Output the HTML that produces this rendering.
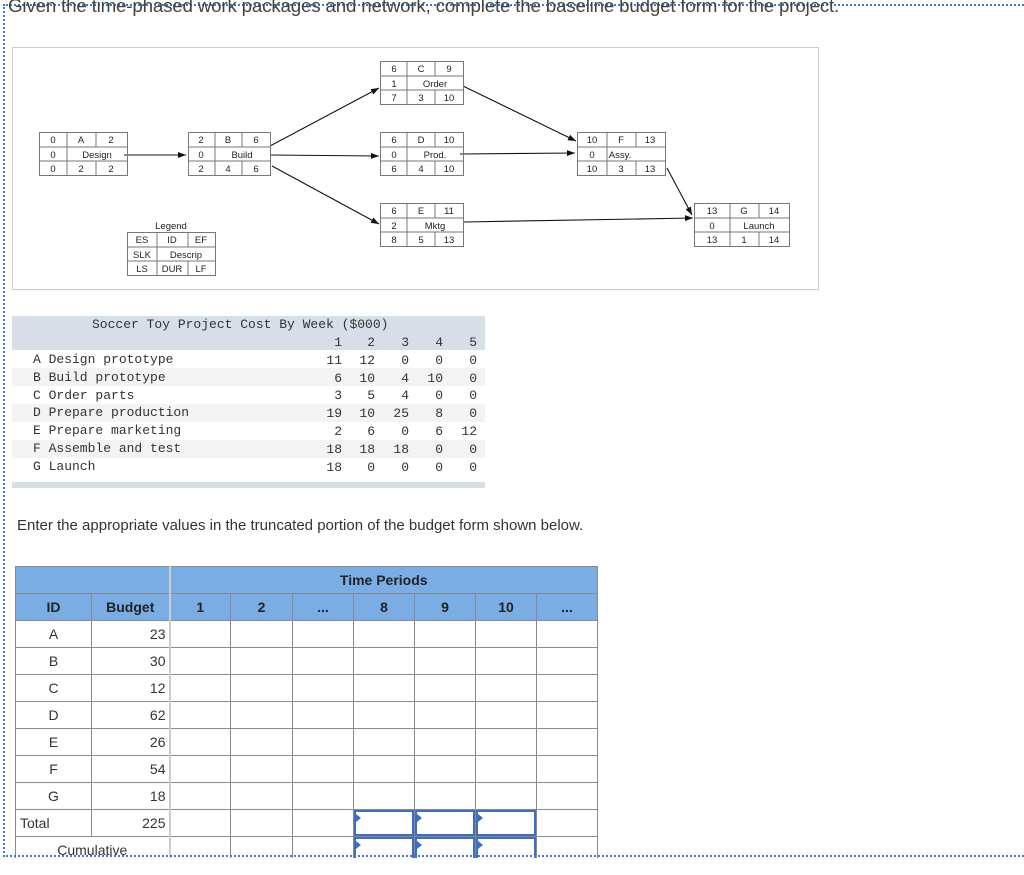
<!DOCTYPE html>
<html><head><meta charset="utf-8"><style>
body{margin:0;background:#fff;width:1024px;height:875px;overflow:hidden;position:relative;font-family:"Liberation Sans",sans-serif}
#frame{position:absolute;left:3px;top:4px;width:1030px;height:853px;border-left:2px dotted #3b7bd0;border-top:2px dotted #3b7bd0;border-bottom:2px dotted #3b7bd0;overflow:hidden}
.abs{position:absolute}
#code{position:absolute;left:12px;top:316px;width:473px;height:172px;font-family:"Liberation Mono",monospace;font-size:13px;color:#333}
#code .r{position:absolute;left:0;width:473px;height:18px;line-height:18px}
#code span{position:absolute}
table.b{position:absolute;left:15px;top:566px;border-collapse:collapse;table-layout:fixed}
table.b td{border:1px solid #8a8a8a;height:26px;padding:0;font-size:14px;color:#333;position:relative}
table.b tr.h td{background:#79ade4;font-weight:bold;text-align:center;color:#222}
.inp{position:absolute;left:0;top:0;right:0;bottom:0;border:2px solid #3c6fbf}
.inp:before{content:"";position:absolute;left:0;top:2px;border-left:5px solid #3c6fbf;border-top:4px solid transparent;border-bottom:4px solid transparent}
</style></head><body>
<div id="frame"></div>
<div class="abs" style="left:8px;top:-5px;font-size:18.8px;color:#444;letter-spacing:-0.2px;white-space:nowrap">Given the time-phased work packages and network, complete the baseline budget form for the project.</div>

<svg class="abs" style="left:0;top:0" width="1024" height="300" font-family="Liberation Sans,sans-serif" font-size="9.5" fill="#222">
<defs><marker id="ah" markerWidth="8" markerHeight="6" refX="8" refY="3" orient="auto" markerUnits="userSpaceOnUse"><path d="M0,0 L8,3 L0,6z" fill="#111"/></marker></defs>
<rect x="12.5" y="47.5" width="806" height="242" fill="#fff" stroke="#ccc"/>
<g stroke="#111" stroke-width="1.1" marker-end="url(#ah)">
<line x1="124" y1="155" x2="186" y2="155"/>
<line x1="270" y1="146" x2="379" y2="88"/>
<line x1="270" y1="155" x2="379" y2="156"/>
<line x1="272" y1="166" x2="379" y2="224"/>
<line x1="463" y1="86" x2="576" y2="141"/>
<line x1="460" y1="154" x2="575" y2="153"/>
<line x1="464" y1="222" x2="693" y2="218"/>
<line x1="667" y1="168" x2="692" y2="215"/>
</g>
<g stroke="#777" fill="none">
<rect x="39.5" y="132.5" width="88" height="43"/><line x1="39" y1="147" x2="127" y2="147"/><line x1="39" y1="161" x2="127" y2="161"/><line x1="67" y1="132" x2="67" y2="147"/><line x1="67" y1="147" x2="67" y2="175"/><line x1="96" y1="132" x2="96" y2="147"/><line x1="96" y1="161" x2="96" y2="175"/>
<rect x="188.5" y="132.5" width="82" height="43"/><line x1="188" y1="147" x2="270" y2="147"/><line x1="188" y1="161" x2="270" y2="161"/><line x1="215" y1="132" x2="215" y2="175"/><line x1="242" y1="132" x2="242" y2="147"/><line x1="242" y1="161" x2="242" y2="175"/>
<rect x="380.5" y="61.5" width="83" height="43"/><line x1="380" y1="76" x2="463" y2="76"/><line x1="380" y1="90" x2="463" y2="90"/><line x1="407" y1="61" x2="407" y2="104"/><line x1="435" y1="61" x2="435" y2="76"/><line x1="435" y1="90" x2="435" y2="104"/>
<rect x="380.5" y="132.5" width="83" height="43"/><line x1="380" y1="147" x2="463" y2="147"/><line x1="380" y1="161" x2="463" y2="161"/><line x1="407" y1="132" x2="407" y2="175"/><line x1="435" y1="132" x2="435" y2="147"/><line x1="435" y1="161" x2="435" y2="175"/>
<rect x="380.5" y="203.5" width="83" height="43"/><line x1="380" y1="218" x2="463" y2="218"/><line x1="380" y1="232" x2="463" y2="232"/><line x1="407" y1="203" x2="407" y2="246"/><line x1="435" y1="203" x2="435" y2="218"/><line x1="435" y1="232" x2="435" y2="246"/>
<rect x="577.5" y="132.5" width="88" height="43"/><line x1="577" y1="147" x2="665" y2="147"/><line x1="577" y1="161" x2="665" y2="161"/><line x1="607" y1="132" x2="607" y2="175"/><line x1="636" y1="132" x2="636" y2="147"/><line x1="636" y1="161" x2="636" y2="175"/>
<rect x="694.5" y="203.5" width="95" height="43"/><line x1="694" y1="218" x2="789" y2="218"/><line x1="694" y1="232" x2="789" y2="232"/><line x1="730" y1="203" x2="730" y2="246"/><line x1="759" y1="203" x2="759" y2="218"/><line x1="759" y1="232" x2="759" y2="246"/>
<rect x="127.5" y="232.5" width="88" height="43"/><line x1="127" y1="247" x2="215" y2="247"/><line x1="127" y1="261" x2="215" y2="261"/><line x1="157" y1="232" x2="157" y2="275"/><line x1="188" y1="232" x2="188" y2="247"/><line x1="188" y1="261" x2="188" y2="275"/>
</g>
<g text-anchor="middle">
<text x="53" y="143">0</text><text x="81" y="143">A</text><text x="111" y="143">2</text><text x="53" y="158">0</text><text x="97" y="158">Design</text><text x="53" y="172">0</text><text x="81" y="172">2</text><text x="111" y="172">2</text>
<text x="201" y="143">2</text><text x="228" y="143">B</text><text x="256" y="143">6</text><text x="201" y="158">0</text><text x="242" y="158">Build</text><text x="201" y="172">2</text><text x="228" y="172">4</text><text x="256" y="172">6</text>
<text x="394" y="72">6</text><text x="421" y="72">C</text><text x="449" y="72">9</text><text x="394" y="87">1</text><text x="435" y="87">Order</text><text x="394" y="101">7</text><text x="421" y="101">3</text><text x="449" y="101">10</text>
<text x="394" y="143">6</text><text x="421" y="143">D</text><text x="449" y="143">10</text><text x="394" y="158">0</text><text x="435" y="158">Prod.</text><text x="394" y="172">6</text><text x="421" y="172">4</text><text x="449" y="172">10</text>
<text x="394" y="214">6</text><text x="421" y="214">E</text><text x="449" y="214">11</text><text x="394" y="229">2</text><text x="435" y="229">Mktg</text><text x="394" y="243">8</text><text x="421" y="243">5</text><text x="449" y="243">13</text>
<text x="592" y="143">10</text><text x="621" y="143">F</text><text x="650" y="143">13</text><text x="592" y="158">0</text><text x="620" y="158">Assy.</text><text x="592" y="172">10</text><text x="621" y="172">3</text><text x="650" y="172">13</text>
<text x="712" y="214">13</text><text x="744" y="214">G</text><text x="774" y="214">14</text><text x="712" y="229">0</text><text x="759" y="229">Launch</text><text x="712" y="243">13</text><text x="744" y="243">1</text><text x="774" y="243">14</text>
<text x="171" y="229">Legend</text>
<text x="142" y="243">ES</text><text x="172" y="243">ID</text><text x="201" y="243">EF</text><text x="142" y="258">SLK</text><text x="186" y="258">Descrip</text><text x="142" y="272">LS</text><text x="172" y="272">DUR</text><text x="201" y="272">LF</text>
</g>
</svg>

<div id="code">
<div class="r" style="top:0;height:34px;background:#d8dee8"></div>
<div class="r" style="top:52px;background:#f3f3f3"></div>
<div class="r" style="top:88px;background:#f3f3f3"></div>
<div class="r" style="top:124px;background:#f3f3f3"></div>
<div class="r" style="top:166px;height:6px;background:#d8dee8"></div>
<span style="left:80px;top:1px">Soccer Toy Project Cost By Week ($000)</span>
<div style="position:absolute;left:21px;top:35px;line-height:17.8px;white-space:pre">A Design prototype
B Build prototype
C Order parts
D Prepare production
E Prepare marketing
F Assemble and test
G Launch</div>
<div style="position:absolute;left:300px;top:18px;width:30px;text-align:right;line-height:17.8px;white-space:pre">1
11
6
3
19
2
18
18</div>
<div style="position:absolute;left:333px;top:18px;width:30px;text-align:right;line-height:17.8px;white-space:pre">2
12
10
5
10
6
18
0</div>
<div style="position:absolute;left:367px;top:18px;width:30px;text-align:right;line-height:17.8px;white-space:pre">3
0
4
4
25
0
18
0</div>
<div style="position:absolute;left:397px;top:18px;width:34px;text-align:right;line-height:17.8px;white-space:pre">4
0
10
0
8
6
0
0</div>
<div style="position:absolute;left:431px;top:18px;width:34px;text-align:right;line-height:17.8px;white-space:pre">5
0
0
0
0
12
0
0</div>
</div>

<div class="abs" style="left:17px;top:517px;font-size:15px;color:#333">Enter the appropriate values in the truncated portion of the budget form shown below.</div>

<table class="b">
<colgroup><col style="width:76px"><col style="width:78px"><col style="width:61px"><col style="width:62px"><col style="width:61px"><col style="width:61px"><col style="width:61px"><col style="width:61px"><col style="width:61px"></colgroup>
<tr class="h"><td colspan="2" style="border-right:2px solid #ccc"></td><td colspan="7">Time Periods</td></tr>
<tr class="h"><td>ID</td><td style="border-right:2px solid #ccc">Budget</td><td>1</td><td>2</td><td>...</td><td>8</td><td>9</td><td>10</td><td>...</td></tr>
<tr><td style="text-align:center">A</td><td style="text-align:right;padding-right:3px;border-right:2px solid #ccc">23</td><td></td><td></td><td></td><td></td><td></td><td></td><td></td></tr>
<tr><td style="text-align:center">B</td><td style="text-align:right;padding-right:3px;border-right:2px solid #ccc">30</td><td></td><td></td><td></td><td></td><td></td><td></td><td></td></tr>
<tr><td style="text-align:center">C</td><td style="text-align:right;padding-right:3px;border-right:2px solid #ccc">12</td><td></td><td></td><td></td><td></td><td></td><td></td><td></td></tr>
<tr><td style="text-align:center">D</td><td style="text-align:right;padding-right:3px;border-right:2px solid #ccc">62</td><td></td><td></td><td></td><td></td><td></td><td></td><td></td></tr>
<tr><td style="text-align:center">E</td><td style="text-align:right;padding-right:3px;border-right:2px solid #ccc">26</td><td></td><td></td><td></td><td></td><td></td><td></td><td></td></tr>
<tr><td style="text-align:center">F</td><td style="text-align:right;padding-right:3px;border-right:2px solid #ccc">54</td><td></td><td></td><td></td><td></td><td></td><td></td><td></td></tr>
<tr><td style="text-align:center">G</td><td style="text-align:right;padding-right:3px;border-right:2px solid #ccc">18</td><td></td><td></td><td></td><td></td><td></td><td></td><td></td></tr>
<tr><td style="padding-left:4px">Total</td><td style="text-align:right;padding-right:3px;border-right:2px solid #ccc">225</td><td></td><td></td><td></td><td><div class="inp"></div></td><td><div class="inp"></div></td><td><div class="inp"></div></td><td></td></tr>
<tr><td colspan="2" style="text-align:center;border-right:2px solid #ccc">Cumulative</td><td></td><td></td><td></td><td><div class="inp"></div></td><td><div class="inp"></div></td><td><div class="inp"></div></td><td></td></tr>
</table>
<div class="abs" style="left:0;top:858px;width:1024px;height:17px;background:#fff"></div>
<div class="abs" style="left:3px;top:855px;width:1021px;border-top:2px dotted #3b7bd0"></div>
</body></html>
